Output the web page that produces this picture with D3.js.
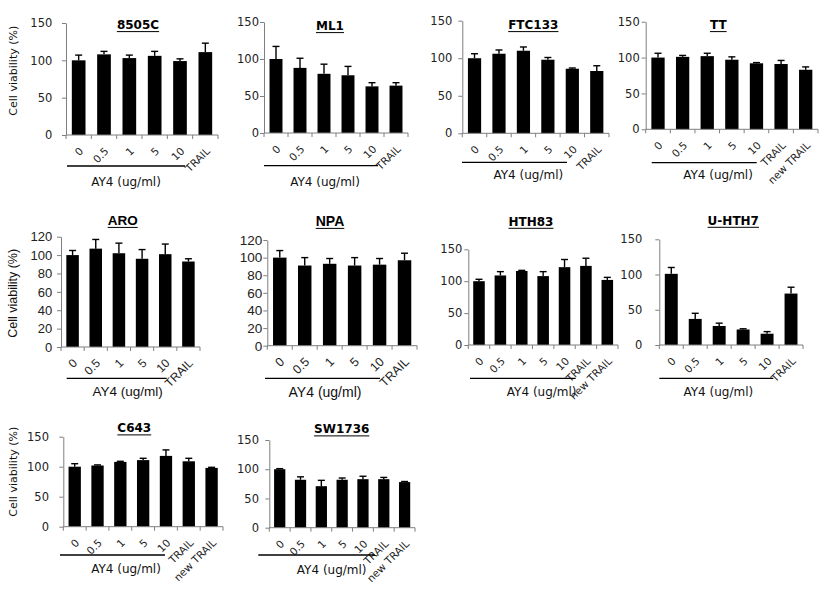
<!DOCTYPE html>
<html>
<head>
<meta charset="utf-8">
<script src="https://cdn.jsdelivr.net/npm/d3@7"></script>
<style>
  html, body { margin: 0; padding: 0; background: #fff; }
  svg { display: block; }
</style>
</head>
<body>
<svg id="chart" width="833" height="590"></svg>
<script>
// ---------- DATA ----------
const doses = ["0", "0.5", "1", "5", "10", "TRAIL"];
const dosesNew = ["0", "0.5", "1", "5", "10", "TRAIL", "new TRAIL"];
const cellLines = ["8505C", "ML1", "FTC133", "TT", "ARO", "NPA", "HTH83", "U-HTH7", "C643", "SW1736"];
const yTicks150 = [0, 50, 100, 150];
const yTicks120 = [0, 20, 40, 60, 80, 100, 120];
const yAxisTitle = "Cell viability (%)";
const groupLabel = "AY4 (ug/ml)";

const mean8505C = [100, 108, 103, 106, 99, 111];
const err8505C  = [7, 4, 4, 6, 3, 12];
const meanML1   = [100, 88, 80, 78, 63, 64];
const errML1    = [17, 13, 13, 12, 5, 4];
const meanFTC133 = [100, 106, 110, 98, 86, 83];
const errFTC133  = [6, 5, 5, 3, 1, 7];
const meanTT    = [100, 101, 102, 97, 92, 91, 83];
const errTT     = [6, 2, 4, 4, 1, 5, 4];
const meanARO   = [100, 107, 102, 96, 101, 93];
const errARO    = [5, 10, 11, 10, 11, 3];
const meanNPA   = [100, 91, 93, 91, 92, 97];
const errNPA    = [8, 9, 6, 9, 7, 8];
const meanHTH83 = [100, 109, 116, 108, 122, 124, 102];
const errHTH83  = [3, 6, 1, 7, 12, 12, 4];
const meanUHTH7 = [101, 37, 27, 22, 16, 73];
const errUHTH7  = [9, 8, 4, 1, 3, 9];
const meanC643  = [100, 102, 108, 111, 118, 109, 98];
const errC643   = [5, 1, 1, 3, 10, 5, 1];
const meanSW1736 = [100, 82, 71, 82, 83, 83, 78];
const errSW1736  = [1, 5, 10, 3, 5, 3, 1];

// ---------- LAYOUT (positions only) ----------
const DJ = "'DejaVu Sans', Verdana, sans-serif";
const AR = "'Liberation Sans', Arial, sans-serif";
const layout = [
  {axisX:66,    xEnd:218, yTop:23,    y0:135,   titleX:138,   titleY:25,    lineX1:67,    lineX2:185,   lineY:166,   labX:126,   labY:182,   gap:12.7, ylabY:70.7, font:DJ, fs:11},
  {axisX:264,   xEnd:408, yTop:22,    y0:133,   titleX:330,   titleY:26,    lineX1:264,   lineX2:378,   lineY:165.7, labX:325,   labY:181.7, gap:4,    font:DJ, fs:11},
  {axisX:462.3, xEnd:609, yTop:20.7,  y0:133.3, titleX:533.3, titleY:25,    lineX1:462,   lineX2:567,   lineY:162.3, labX:528.3, labY:175,   gap:9,    font:DJ, fs:11},
  {axisX:645.7, xEnd:818, yTop:21.7,  y0:129.3, titleX:718.3, titleY:25,    lineX1:651.7, lineX2:756.7, lineY:162.7, labX:718,   labY:175,   gap:5,    font:DJ, fs:11},
  {axisX:61,    xEnd:200, yTop:236.7, y0:347,   titleX:122.7, titleY:220,   lineX1:66.7,  lineX2:166.7, lineY:378.3, labX:127.7, labY:391.7, gap:7.7,  ylabY:293.3, font:AR, fs:12.5},
  {axisX:267.3, xEnd:417, yTop:240,   y0:345.7, titleX:330,   titleY:220.7, lineX1:265,   lineX2:380,   lineY:378.3, labX:325,   labY:391.7, gap:4,    font:AR, fs:13},
  {axisX:468.3, xEnd:618, yTop:249.3, y0:345,   titleX:531,   titleY:221.7, lineX1:470,   lineX2:575.7, lineY:378.3, labX:541.7, labY:391.7, gap:5,    font:DJ, fs:11},
  {axisX:659.3, xEnd:803, yTop:239.3, y0:345,   titleX:733.3, titleY:220.7, lineX1:659.3, lineX2:773.3, lineY:378.3, labX:718.3, labY:391.7, gap:16,   font:DJ, fs:11},
  {axisX:63.3,  xEnd:223, yTop:436.7, y0:526.7, titleX:134.3, titleY:428.3, lineX1:60,    lineX2:165,   lineY:555,   labX:126,   labY:569.3, gap:13.3, ylabY:471.7, font:DJ, fs:11},
  {axisX:269.3, xEnd:415, yTop:440,   y0:527.7, titleX:341.7, titleY:429.3, lineX1:258.3, lineX2:375,   lineY:555,   labX:331.7, labY:570,   gap:9.3,  font:DJ, fs:11}
];

const panelData = [
  {cats: doses,    mean: mean8505C,  err: err8505C,  ticks: yTicks150},
  {cats: doses,    mean: meanML1,    err: errML1,    ticks: yTicks150},
  {cats: doses,    mean: meanFTC133, err: errFTC133, ticks: yTicks150},
  {cats: dosesNew, mean: meanTT,     err: errTT,     ticks: yTicks150},
  {cats: doses,    mean: meanARO,    err: errARO,    ticks: yTicks120},
  {cats: doses,    mean: meanNPA,    err: errNPA,    ticks: yTicks120},
  {cats: dosesNew, mean: meanHTH83,  err: errHTH83,  ticks: yTicks150},
  {cats: doses,    mean: meanUHTH7,  err: errUHTH7,  ticks: yTicks150},
  {cats: dosesNew, mean: meanC643,   err: errC643,   ticks: yTicks150},
  {cats: dosesNew, mean: meanSW1736, err: errSW1736, ticks: yTicks150}
];

const svg = d3.select("#chart");
const AXIS = "#7f7f7f";

panelData.forEach((pd, i) => {
  const L = layout[i];
  const g = svg.append("g").attr("class", "panel");
  const yMax = pd.ticks[pd.ticks.length - 1];
  const x = d3.scaleBand().domain(pd.cats).range([L.axisX, L.xEnd]).paddingInner(0).paddingOuter(0);
  const y = d3.scaleLinear().domain([0, yMax]).range([L.y0, L.yTop]);
  const bw = x.bandwidth() * 0.54;
  const rows = pd.cats.map((c, k) => ({c, v: pd.mean[k], e: pd.err[k]}));

  // bars
  g.selectAll("rect.bar").data(rows).join("rect")
    .attr("class", "bar")
    .attr("x", d => x(d.c) + (x.bandwidth() - bw) / 2)
    .attr("width", bw)
    .attr("y", d => y(d.v))
    .attr("height", d => L.y0 - y(d.v))
    .attr("fill", "#000");

  // error bars (upper only)
  g.selectAll("line.err").data(rows).join("line")
    .attr("class", "err")
    .attr("x1", d => x(d.c) + x.bandwidth() / 2)
    .attr("x2", d => x(d.c) + x.bandwidth() / 2)
    .attr("y1", d => y(d.v))
    .attr("y2", d => y(d.v + d.e))
    .attr("stroke", "#000").attr("stroke-width", 1.4);
  g.selectAll("line.cap").data(rows).join("line")
    .attr("class", "cap")
    .attr("x1", d => x(d.c) + x.bandwidth() / 2 - 3.5)
    .attr("x2", d => x(d.c) + x.bandwidth() / 2 + 3.5)
    .attr("y1", d => y(d.v + d.e))
    .attr("y2", d => y(d.v + d.e))
    .attr("stroke", "#000").attr("stroke-width", 1.4);

  // y axis
  const ya = g.append("g").attr("transform", `translate(${L.axisX},0)`)
    .call(d3.axisLeft(y).tickValues(pd.ticks).tickSize(4).tickSizeOuter(0).tickPadding(Math.max(L.gap - 4, 0) + 1));
  ya.select(".domain").attr("stroke", AXIS);
  ya.selectAll(".tick line").attr("stroke", AXIS);
  ya.selectAll(".tick text").attr("font-family", L.font).attr("font-size", L.fs + 0.5).attr("fill", "#222");

  // x axis line and ticks between categories
  g.append("line").attr("x1", L.axisX).attr("x2", L.xEnd).attr("y1", L.y0).attr("y2", L.y0)
    .attr("stroke", AXIS).attr("stroke-width", 1);
  const bounds = pd.cats.map(c => x(c)).concat([x.range()[1]]);
  g.selectAll("line.xt").data(bounds).join("line")
    .attr("class", "xt")
    .attr("x1", d => d).attr("x2", d => d)
    .attr("y1", L.y0).attr("y2", L.y0 + 4)
    .attr("stroke", AXIS);

  // rotated category labels
  g.selectAll("text.xl").data(pd.cats).join("text")
    .attr("class", "xl")
    .attr("transform", c => `translate(${x(c) + x.bandwidth() / 2 + 2.5},${L.y0 + 14}) rotate(-45)`)
    .attr("text-anchor", "end")
    .attr("dominant-baseline", "central")
    .attr("font-family", L.font)
    .attr("font-size", L.fs - 0.5)
    .attr("fill", "#222")
    .text(c => c);

  // title (bold + underline)
  const tfs = L.fs + 1;
  const t = g.append("text")
    .attr("x", L.titleX).attr("y", L.titleY)
    .attr("text-anchor", "middle").attr("dominant-baseline", "central")
    .attr("font-family", L.font).attr("font-weight", "bold").attr("font-size", tfs)
    .attr("fill", "#000")
    .text(cellLines[i]);
  const tw = t.node().getComputedTextLength();
  g.append("line")
    .attr("x1", L.titleX - tw / 2).attr("x2", L.titleX + tw / 2)
    .attr("y1", L.titleY + tfs * 0.55).attr("y2", L.titleY + tfs * 0.55)
    .attr("stroke", "#000").attr("stroke-width", 1);

  // AY4 group line & label
  g.append("line").attr("x1", L.lineX1).attr("x2", L.lineX2).attr("y1", L.lineY).attr("y2", L.lineY)
    .attr("stroke", "#000").attr("stroke-width", 1.3);
  g.append("text").attr("x", L.labX).attr("y", L.labY)
    .attr("text-anchor", "middle").attr("dominant-baseline", "central")
    .attr("font-family", L.font).attr("font-size", L.fs + 1).attr("fill", "#111")
    .text(groupLabel);

  // y axis title on first column
  if (L.ylabY !== undefined) {
    g.append("text")
      .attr("transform", `translate(13.3,${L.ylabY}) rotate(-90)`)
      .attr("text-anchor", "middle").attr("dominant-baseline", "central")
      .attr("font-family", L.font).attr("font-size", L.fs).attr("fill", "#111")
      .text(yAxisTitle);
  }
});
</script>
</body>
</html>
